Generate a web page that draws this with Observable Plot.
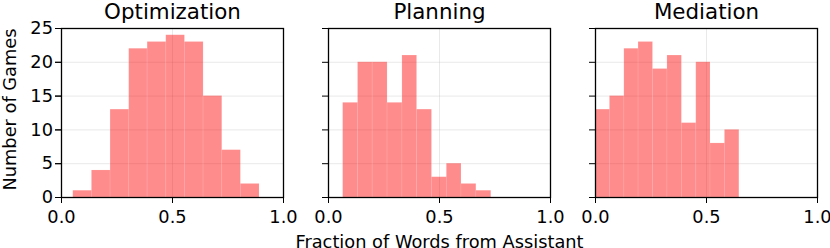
<!DOCTYPE html>
<html>
<head>
<meta charset="utf-8">
<script src="https://cdn.jsdelivr.net/npm/d3@7"></script>
<script src="https://cdn.jsdelivr.net/npm/@observablehq/plot@0.6"></script>
<style>
  html, body { margin: 0; padding: 0; background: white; }
  #chart { width: 830px; height: 248px; }
</style>
</head>
<body>
<div id="chart"></div>
<script>
// Panel titles (categories)
const categories = ["Optimization", "Planning", "Mediation"];

// Bin edges (fraction of words from assistant)
const optimizationEdges = [0.053, 0.137, 0.221, 0.305, 0.388, 0.472, 0.556, 0.640, 0.724, 0.808, 0.892];
const planningEdges     = [0.066, 0.133, 0.199, 0.266, 0.333, 0.399, 0.466, 0.533, 0.599, 0.666, 0.733];
const mediationEdges    = [0.000, 0.065, 0.130, 0.194, 0.259, 0.324, 0.389, 0.454, 0.518, 0.583, 0.648];

// Counts (number of games) per bin
const optimizationCounts = [1, 4, 13, 22, 23, 24, 23, 15, 7, 2];
const planningCounts     = [14, 20, 20, 14, 21, 13, 3, 5, 2, 1];
const mediationCounts    = [13, 15, 22, 23, 19, 21, 11, 20, 8, 10];

// Axis ticks
const xTicks = [0, 0.5, 1];
const yTicks = [0, 5, 10, 15, 20, 25];

const xLabel = "Fraction of Words from Assistant";
const yLabel = "Number of Games";

const edgesBy = {Optimization: optimizationEdges, Planning: planningEdges, Mediation: mediationEdges};
const countsBy = {Optimization: optimizationCounts, Planning: planningCounts, Mediation: mediationCounts};

const bins = categories.flatMap(cat =>
  countsBy[cat].map((c, i) => ({cat, x1: edgesBy[cat][i], x2: edgesBy[cat][i + 1], count: c}))
);

const gridX = categories.flatMap(cat => xTicks.map(v => ({cat, v})));
const gridY = categories.flatMap(cat => yTicks.map(v => ({cat, v})));

const chart = Plot.plot({
  width: 830,
  height: 248,
  marginLeft: 60.5,
  marginRight: 12.5,
  marginTop: 28,
  marginBottom: 51,
  style: {fontFamily: "DejaVu Sans", fontSize: "17.8px", color: "black", background: "white"},
  fx: {domain: categories, padding: 0.1674, axis: null},
  x: {domain: [0, 1]},
  y: {domain: [0, 25]},
  marks: [
    Plot.ruleX(gridX, {fx: "cat", x: "v", stroke: "#b0b0b0", strokeOpacity: 0.28, strokeWidth: 1}),
    Plot.ruleY(gridY, {fx: "cat", y: "v", stroke: "#b0b0b0", strokeOpacity: 0.28, strokeWidth: 1}),
    Plot.rectY(bins, {fx: "cat", x1: "x1", x2: "x2", y: "count", fill: "red", fillOpacity: 0.45,
      stroke: "white", strokeOpacity: 0.12, strokeWidth: 0.8}),
    Plot.axisX({ticks: xTicks, tickFormat: d3.format(".1f"), tickSize: 6, tickPadding: 7, label: null}),
    Plot.axisY({ticks: yTicks, tickSize: 6, tickPadding: 2.5, label: null, facetAnchor: "left"}),
    Plot.axisY({ticks: yTicks, tickSize: 6, tickFormat: () => "", label: null, facetAnchor: null}),
    Plot.frame({stroke: "black", strokeWidth: 1.3}),
    Plot.text(categories, {fx: d => d, text: d => d, frameAnchor: "top", lineAnchor: "bottom", dy: -10, fontSize: 21.4}),
    Plot.text([categories[1]], {fx: d => d, text: () => xLabel, frameAnchor: "bottom", lineAnchor: "bottom", dy: 50.5}),
    Plot.text([categories[0]], {fx: d => d, text: () => yLabel, frameAnchor: "left", textAnchor: "middle", lineAnchor: "bottom", rotate: -90, dx: -45.5, dy: -3.5})
  ]
});
document.getElementById("chart").appendChild(chart);
</script>
</body>
</html>
